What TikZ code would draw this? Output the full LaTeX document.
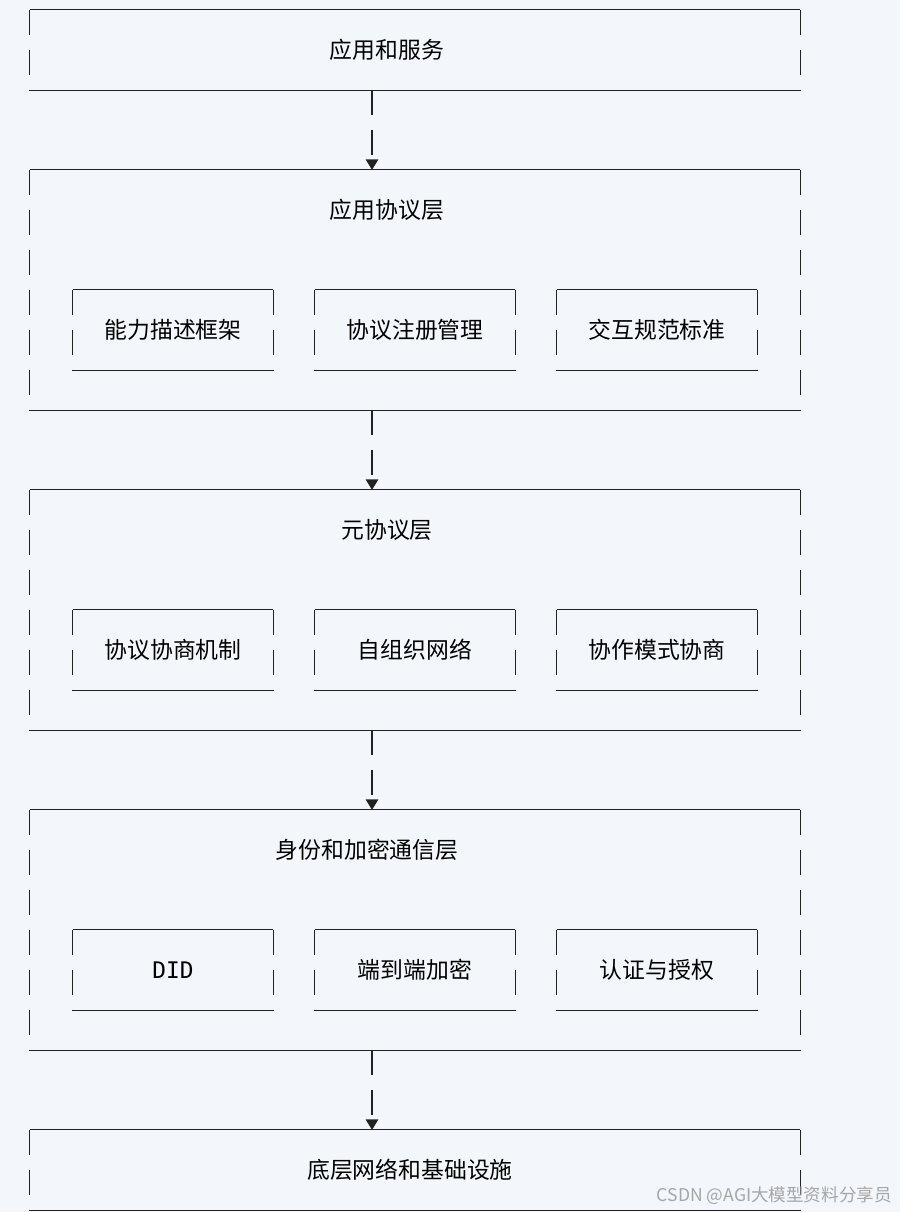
\documentclass[tikz,border=0pt]{standalone}
\usepackage{fontspec}
\setmainfont{Noto Sans CJK SC}
\newfontfamily\monofont{DejaVu Sans Mono}
\usetikzlibrary{positioning,arrows.meta}
\definecolor{bgcol}{HTML}{F3F7FB}
\definecolor{linecol}{HTML}{222222}
\tikzset{
  frame/.style={minimum height=1.6cm,inner sep=0pt,font=\fontsize{13}{15}\selectfont},
  conn/.style={linecol,thick,dash pattern=on 0.5cm off 0.3cm,-{Triangle[length=6pt,width=7pt]}},
}
\newcommand{\layerframe}[1]{%
  \draw[linecol,thick] (#1.north west) -- (#1.north east);
  \draw[linecol,thick] (#1.south west) -- (#1.south east);
  \draw[linecol,thick,dash pattern=on 0.5cm off 0.3cm] (#1.north west) -- (#1.south west);
  \draw[linecol,thick,dash pattern=on 0.5cm off 0.3cm] (#1.north east) -- (#1.south east);
}
\begin{document}
\begin{tikzpicture}[x=0.02cm,y=-0.02cm]
\fill[bgcol] (0,0) rectangle (900,1212);
\useasboundingbox (0,0) rectangle (900,1212);

% layers
\node[frame,minimum width=15.4cm] (app) at (415,50) {};
\node at (387,50) {\fontsize{13}{15}\selectfont 应用和服务};
\node[frame,minimum width=15.4cm,minimum height=4.8cm] (proto) at (415,290) {};
\node at (387,210) {\fontsize{13}{15}\selectfont 应用协议层};
\node[frame,minimum width=15.4cm,minimum height=4.8cm] (meta) at (415,610) {};
\node at (387,530) {\fontsize{13}{15}\selectfont 元协议层};
\node[frame,minimum width=15.4cm,minimum height=4.8cm] (ident) at (415,930) {};
\node at (367,850) {\fontsize{13}{15}\selectfont 身份和加密通信层};
\node[frame,minimum width=15.4cm] (infra) at (415,1170) {};
\node at (410,1170) {\fontsize{13}{15}\selectfont 底层网络和基础设施};

% inner boxes
\foreach \n/\x/\t in {pa/173/能力描述框架, pb/415/协议注册管理, pc/657/交互规范标准}
  \node[frame,minimum width=4cm] (\n) at (\x,330) {\t};
\foreach \n/\x/\t in {ma/173/协议协商机制, mb/415/自组织网络, mc/657/协作模式协商}
  \node[frame,minimum width=4cm] (\n) at (\x,650) {\t};
\foreach \n/\x/\t in {ia/173/{\monofont DID}, ib/415/端到端加密, ic/657/认证与授权}
  \node[frame,minimum width=4cm] (\n) at (\x,970) {\t};

\foreach \n in {app,proto,meta,ident,infra,pa,pb,pc,ma,mb,mc,ia,ib,ic}
  {\layerframe{\n}}

% connectors
\coordinate (a1) at (372,90);  \coordinate (a2) at (372,170);
\coordinate (b1) at (372,410); \coordinate (b2) at (372,490);
\coordinate (c1) at (372,730); \coordinate (c2) at (372,810);
\coordinate (d1) at (372,1050);\coordinate (d2) at (372,1130);
\draw[conn] (a1) -- (a2);
\draw[conn] (b1) -- (b2);
\draw[conn] (c1) -- (c2);
\draw[conn] (d1) -- (d2);

\node[gray!70,anchor=east,font=\fontsize{10}{12}\selectfont] (mark) at (898,1196) {CSDN @AGI大模型资料分享员};
\end{tikzpicture}
\end{document}
